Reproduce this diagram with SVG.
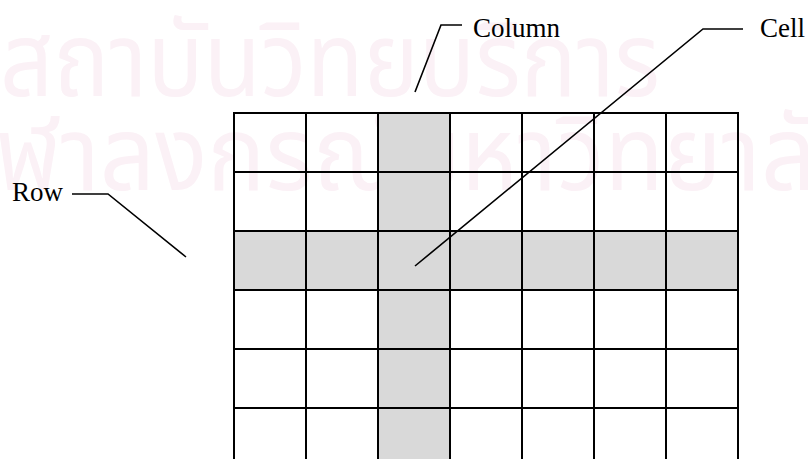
<svg xmlns="http://www.w3.org/2000/svg" width="808" height="459" viewBox="0 0 808 459">
  <style>
    .wm { font-family: "Noto Sans Thai", "Noto Sans", "DejaVu Sans", sans-serif; font-size: 104px; fill: #fbf1f6; }
    .grid { stroke: #000; stroke-width: 2; fill: none; }
    .hl { fill: #d9d9d9; }
    .lead { stroke: #000; stroke-width: 1.6; fill: none; }
    .lbl { font-family: "Liberation Serif", "Times New Roman", serif; font-size: 27px; fill: #000; }
  </style>
  <rect width="808" height="459" fill="#fff"/>
  <g id="watermark">
    <text class="wm" x="0" y="96" textLength="660" lengthAdjust="spacingAndGlyphs">สถาบันวิทยบริการ</text>
    <text class="wm" x="-56" y="190" textLength="930" lengthAdjust="spacingAndGlyphs">จุฬาลงกรณ์มหาวิทยาลัย</text>
  </g>
  <g id="grid">
    <rect class="hl" x="378" y="113" width="72" height="346"/>
    <rect class="hl" x="234" y="231" width="504" height="59"/>
    <path class="grid" d="M234 113H738M234 172H738M234 231H738M234 290H738M234 349H738M234 408H738M234 112V459M306 113V459M378 113V459M450 113V459M522 113V459M594 113V459M666 113V459M738 112V459"/>
  </g>
  <g id="connectors">
    <polyline class="lead" points="415,92 441,25 462,25"/>
    <polyline class="lead" points="415,266 703,29 743,29"/>
    <polyline class="lead" points="72,194 108,194 186,257"/>
  </g>
  <g id="label-column"><text class="lbl" x="473" y="37">Column</text></g>
  <g id="label-cell"><text class="lbl" x="760" y="37">Cell</text></g>
  <g id="label-row"><text class="lbl" x="12" y="201">Row</text></g>
</svg>
